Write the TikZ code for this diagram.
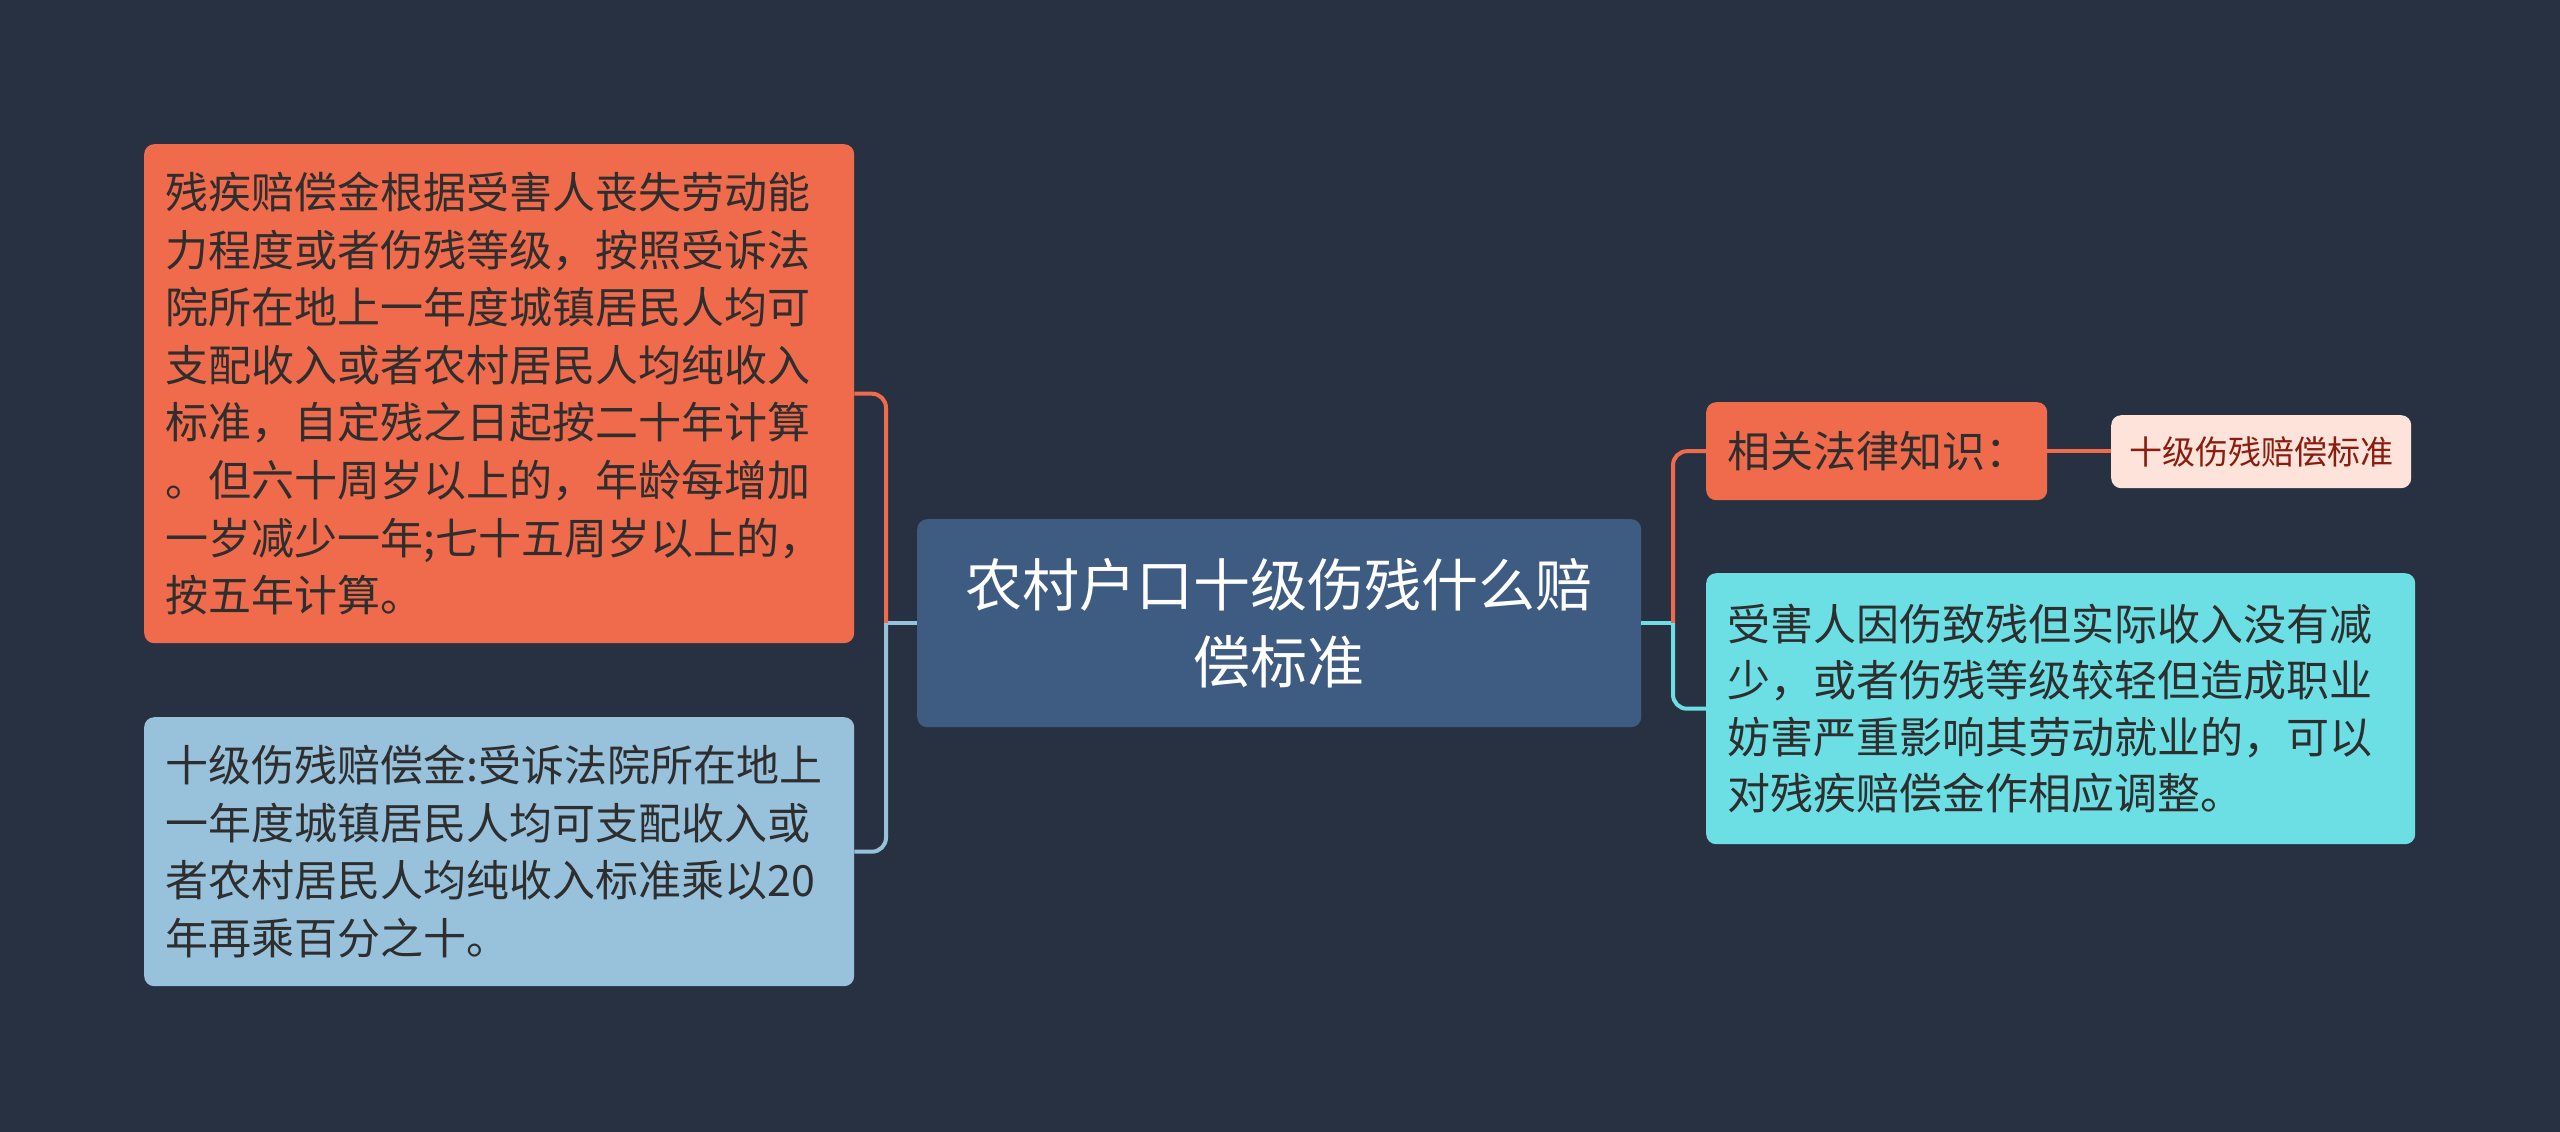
\documentclass[tikz,border=0pt]{standalone}
\usepackage{fontspec}
\setmainfont{Noto Sans CJK SC}
\definecolor{bgc}{HTML}{283141}
\definecolor{orc}{HTML}{F06B4C}
\definecolor{lbc}{HTML}{98C1DB}
\definecolor{cec}{HTML}{3E5B81}
\definecolor{cyc}{HTML}{6BDFE4}
\definecolor{smc}{HTML}{FDE3DA}
\definecolor{smt}{HTML}{8A1C10}
\definecolor{dkt}{HTML}{2E2E2E}
\tikzset{
  box/.style={anchor=north west, rounded corners=10pt, inner xsep=21pt, inner ysep=0pt, align=left, text=dkt,
    font=\fontsize{43}{57.6}\selectfont},
  conn/.style={line width=4pt},
  rconn/.style={line width=4pt, rounded corners=14pt},
}
\begin{document}
\begin{tikzpicture}[x=1pt,y=-1pt]
\fill[bgc] (0,0) rectangle (2560,1132);
\useasboundingbox (0,0) rectangle (2560,1132);

\node[box, fill=orc, text width=668pt, minimum height=499pt] (lo) at (144,144)
{残疾赔偿金根据受害人丧失劳动能\\力程度或者伤残等级，按照受诉法\\院所在地上一年度城镇居民人均可\\支配收入或者农村居民人均纯收入\\标准，自定残之日起按二十年计算\\。但六十周岁以上的，年龄每增加\\一岁减少一年;七十五周岁以上的，\\按五年计算。};

\node[box, fill=lbc, text width=668pt, minimum height=269pt] (lb) at (144,717)
{十级伤残赔偿金:受诉法院所在地上\\一年度城镇居民人均可支配收入或\\者农村居民人均纯收入标准乘以20\\年再乘百分之十。};

\node[box, fill=cec, text=white, align=center, text width=682pt, minimum height=208pt,
  font=\fontsize{57}{77}\selectfont] (ce) at (917,519)
{农村户口十级伤残什么赔\\偿标准};

\node[box, fill=orc, text width=299pt, minimum height=98pt] (ro) at (1706,402)
{相关法律知识：};

\node[box, fill=smc, text=smt, align=center, inner xsep=0pt, text width=300pt, minimum height=73pt,
  font=\fontsize{33}{40}\selectfont] (sm) at (2111,415)
{十级伤残赔偿标准};

\node[box, fill=cyc, text width=667pt, minimum height=271pt, font=\fontsize{43}{56.6}\selectfont] (cy) at (1706,573)
{受害人因伤致残但实际收入没有减\\少，或者伤残等级较轻但造成职业\\妨害严重影响其劳动就业的，可以\\对残疾赔偿金作相应调整。};

\coordinate (jl) at (886,623);
\coordinate (jr) at (1673,623);

\draw[conn, lbc] (ce.west |- jl) -- (jl);
\draw[rconn, orc] (jl) |- (lo.east);
\draw[rconn, lbc] (jl) |- (lb.east);

\draw[conn, cyc] (ce.east |- jr) -- (jr);
\draw[rconn, orc] (jr) |- (ro.west);
\draw[rconn, cyc] (jr) |- (cy.west);
\draw[conn, orc] (ro.east) -- (sm.west |- ro.east);
\end{tikzpicture}
\end{document}
